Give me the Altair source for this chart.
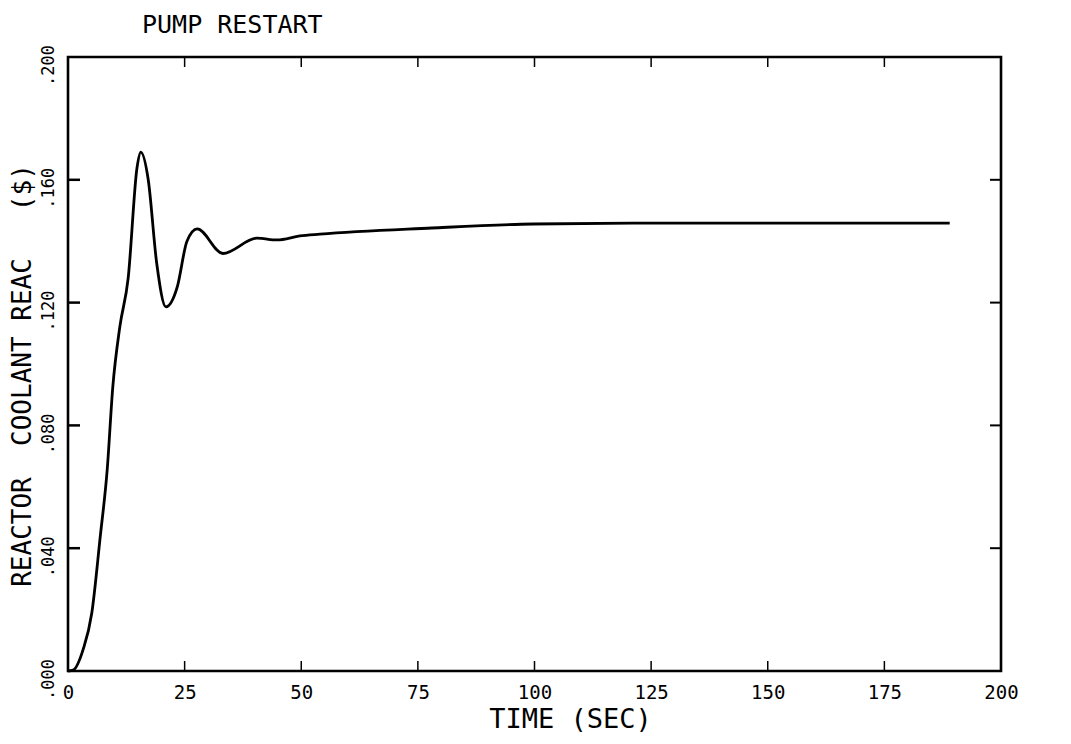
import altair as alt
import pandas as pd

# curve: time (s) and reactivity ($)
time_s = [0.0, 1.1, 3.2, 5.1, 6.9, 8.4, 9.6, 11.1, 12.9, 14.8, 15.6, 17.2, 19.0,
          21.0, 23.4, 25.5, 27.7, 33.2, 40.5, 44.8, 49.7, 54.0, 78.0, 99.7,
          121.0, 151.0, 189.0]
coolant_reac = [0.0, 0.0003, 0.0068, 0.0189, 0.0436, 0.0655, 0.0925, 0.112, 0.128,
                0.164, 0.169, 0.160, 0.133, 0.1186, 0.125, 0.140, 0.144, 0.136,
                0.141, 0.1404, 0.1417, 0.1423, 0.1443, 0.1456, 0.1459, 0.1459, 0.1459]

x_ticks = [0, 25, 50, 75, 100, 125, 150, 175, 200]
y_ticks = [0.0, 0.04, 0.08, 0.12, 0.16, 0.20]
x_inner_ticks = [25, 50, 75, 100, 125, 150, 175]
y_inner_ticks = [0.04, 0.08, 0.12, 0.16]

title_text = ["PUMP RESTART"]
x_title = "TIME (SEC)"
y_title = "REACTOR\u00a0\u00a0COOLANT\u00a0REAC\u00a0\u00a0\u00a0($)"

W, H = 933, 614
FONT = "DejaVu Sans Mono"

df = pd.DataFrame({"t": time_s, "r": coolant_reac})
xt = pd.DataFrame({"t": x_inner_ticks})
yt = pd.DataFrame({"r": y_inner_ticks})
tt = pd.DataFrame({"label": title_text})

xscale = alt.Scale(domain=[0, 200], nice=False, zero=False)
yscale = alt.Scale(domain=[0, 0.2], nice=False, zero=False)

xaxis = alt.Axis(values=x_ticks, title=x_title, grid=False, domain=False,
                 ticks=False, tickSize=0, labelPadding=12,
                 labelFont=FONT, labelFontSize=19, labelColor="black",
                 labelBaseline="top", labelFlush=False,
                 titleFont=FONT, titleFontSize=27, titleFontWeight="normal",
                 titleColor="black", titleX=502, titleY=56,
                 titleAlign="center", titleBaseline="alphabetic")
yaxis = alt.Axis(values=y_ticks, title=y_title, grid=False, domain=False,
                 ticks=False, tickSize=0, labelPadding=15,
                 labelAngle=-90, labelAlign="center", labelBaseline="alphabetic",
                 labelOffset=8, labelFlush=False,
                 labelExpr="replace(format(datum.value, '.3f'), '0.', '.')",
                 labelFont=FONT, labelFontSize=17, labelColor="black",
                 titleFont=FONT, titleFontSize=26, titleFontWeight="normal",
                 titleColor="black", titleAngle=-90, titleX=-46, titleY=318,
                 titleAlign="center", titleBaseline="middle")

line = alt.Chart(df).mark_line(color="black", strokeWidth=2.8, interpolate="monotone").encode(
    x=alt.X("t:Q", scale=xscale, axis=xaxis),
    y=alt.Y("r:Q", scale=yscale, axis=yaxis),
)

bottom_ticks = alt.Chart(xt).mark_rule(color="black", strokeWidth=1.5).encode(
    x=alt.X("t:Q", scale=xscale, axis=xaxis), y=alt.value(H), y2=alt.value(H - 10))
top_ticks = alt.Chart(xt).mark_rule(color="black", strokeWidth=1.5).encode(
    x=alt.X("t:Q", scale=xscale, axis=xaxis), y=alt.value(0), y2=alt.value(10))
left_ticks = alt.Chart(yt).mark_rule(color="black", strokeWidth=2.5).encode(
    y=alt.Y("r:Q", scale=yscale, axis=yaxis), x=alt.value(0), x2=alt.value(12))
right_ticks = alt.Chart(yt).mark_rule(color="black", strokeWidth=2.0).encode(
    y=alt.Y("r:Q", scale=yscale, axis=yaxis), x=alt.value(W), x2=alt.value(W - 11))

title_mark = alt.Chart(tt).mark_text(
    align="left", baseline="alphabetic", font=FONT, fontSize=25, color="black"
).encode(text="label:N", x=alt.value(74), y=alt.value(-24))

chart = alt.layer(line, bottom_ticks, top_ticks, left_ticks, right_ticks, title_mark).properties(
    width=W, height=H,
    autosize=alt.AutoSizeParams(type="none"),
    padding={"left": 68, "top": 57, "right": 70, "bottom": 73},
    background="white",
).configure_view(stroke="black", strokeWidth=2.6)

chart.save("out.html", embed_options={"renderer": "svg", "actions": False})
